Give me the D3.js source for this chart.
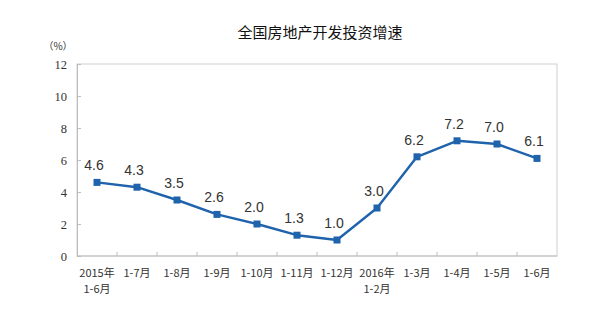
<!doctype html>
<html lang="zh">
<head>
<meta charset="utf-8">
<title>全国房地产开发投资增速</title>
<script src="https://d3js.org/d3.v7.min.js"></script>
<style>
  body { margin: 0; background: #fff; }
</style>
</head>
<body>
<svg width="600" height="334"></svg>
<script>
var categories = [["2015年", "1-6月"], ["1-7月"], ["1-8月"], ["1-9月"], ["1-10月"], ["1-11月"], ["1-12月"],
                  ["2016年", "1-2月"], ["1-3月"], ["1-4月"], ["1-5月"], ["1-6月"]];
var values = [4.6, 4.3, 3.5, 2.6, 2.0, 1.3, 1.0, 3.0, 6.2, 7.2, 7.0, 6.1];
var yTicks = [0, 2, 4, 6, 8, 10, 12];
var title = "全国房地产开发投资增速";
var unit = "（%）";

var svg = d3.select("svg");
var m = {left: 77, top: 64, right: 557, bottom: 256};
var cjk = "'Noto Sans CJK SC', sans-serif";
var lineColor = "#1f63ad";

var x = d3.scaleBand().domain(d3.range(categories.length)).range([m.left, m.right]);
var y = d3.scaleLinear().domain([0, 12]).range([m.bottom, m.top]);

// title
svg.append("text")
    .attr("x", 320).attr("y", 38)
    .attr("text-anchor", "middle")
    .attr("font-family", cjk).attr("font-size", 15)
    .attr("fill", "#111")
    .text(title);

svg.append("text")
    .attr("x", 58).attr("y", 50)
    .attr("text-anchor", "middle")
    .attr("font-family", cjk).attr("font-size", 10)
    .attr("fill", "#333")
    .text(unit);

// plot frame
svg.append("rect")
    .attr("x", m.left).attr("y", m.top)
    .attr("width", m.right - m.left).attr("height", m.bottom - m.top)
    .attr("fill", "none").attr("stroke", "#cfcfcf").attr("stroke-width", 1);

// y axis
var yAxis = svg.append("g")
    .attr("transform", "translate(" + m.left + ",0)")
    .call(d3.axisLeft(y).tickValues(yTicks).tickSize(-4).tickPadding(10).tickFormat(d3.format("d")));
yAxis.select(".domain").attr("stroke", "#bdbdbd");
yAxis.selectAll(".tick line").attr("stroke", "#bdbdbd");
yAxis.selectAll(".tick text")
    .attr("font-family", "'Liberation Serif', serif").attr("font-size", 12.5).attr("fill", "#333");

// x axis ticks at band boundaries
var xAxis = svg.append("g")
    .attr("transform", "translate(0," + m.bottom + ")");
xAxis.append("line")
    .attr("x1", m.left).attr("x2", m.right)
    .attr("stroke", "#bdbdbd");
xAxis.selectAll("line.tk")
    .data(d3.range(1, categories.length))
    .join("line")
    .attr("class", "tk")
    .attr("x1", function(i) { return x(i); }).attr("x2", function(i) { return x(i); })
    .attr("y1", 0).attr("y2", -4)
    .attr("stroke", "#bdbdbd");
var labels = xAxis.selectAll("text")
    .data(categories)
    .join("text")
    .attr("text-anchor", "middle")
    .attr("font-family", cjk).attr("font-size", 11)
    .attr("fill", "#333");
labels.selectAll("tspan")
    .data(function(d, i) { return d.map(function(s) { return {s: s, i: i}; }); })
    .join("tspan")
    .attr("x", function(d) { return x(d.i) + x.bandwidth() / 2; })
    .attr("y", function(d, j) { return 21 + j * 16; })
    .text(function(d) { return d.s; });

// line + markers
var cx = function(d, i) { return x(i) + x.bandwidth() / 2; };
svg.append("path")
    .datum(values)
    .attr("fill", "none")
    .attr("stroke", lineColor)
    .attr("stroke-width", 2.4)
    .attr("stroke-linejoin", "round")
    .attr("d", d3.line().x(cx).y(function(d) { return y(d); }));

svg.selectAll("rect.pt")
    .data(values)
    .join("rect")
    .attr("class", "pt")
    .attr("x", function(d, i) { return cx(d, i) - 3.5; })
    .attr("y", function(d) { return y(d) - 3.5; })
    .attr("width", 7).attr("height", 7)
    .attr("fill", lineColor);

svg.selectAll("text.val")
    .data(values)
    .join("text")
    .attr("class", "val")
    .attr("x", function(d, i) { return cx(d, i) - 3; })
    .attr("y", function(d) { return y(d) - 12; })
    .attr("text-anchor", "middle")
    .attr("font-family", "'Liberation Sans', Arial, sans-serif").attr("font-size", 14)
    .attr("fill", "#333")
    .text(function(d) { return d3.format(".1f")(d); });
</script>
</body>
</html>
